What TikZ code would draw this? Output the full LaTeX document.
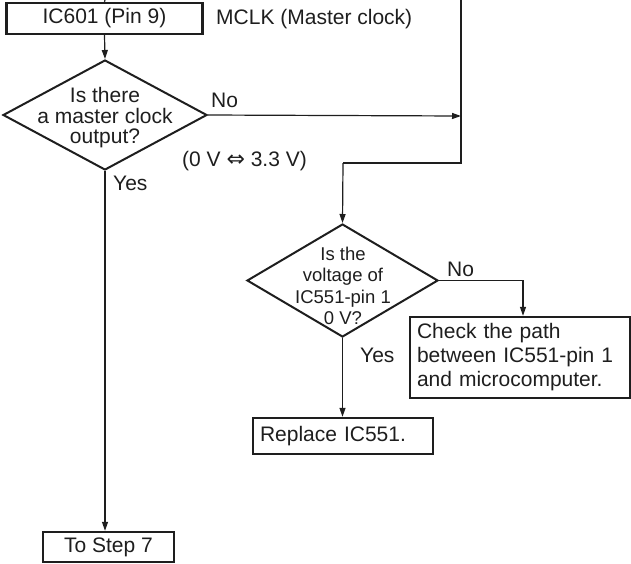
\documentclass[tikz,border=0pt]{standalone}
\usepackage{fontspec}
\setmainfont{Liberation Sans}
\newfontfamily\symfont{DejaVu Sans}
\usetikzlibrary{shapes.geometric,arrows.meta}
\definecolor{ink}{HTML}{1E1E1E}
\tikzset{
  every node/.style={text=ink, font=\fontsize{21}{21}\selectfont},
  stepbox/.style={draw=ink, line width=2.4pt, inner sep=0pt, minimum height=31pt},
  notebox/.style={draw=ink, line width=2.4pt, inner xsep=7pt, inner ysep=0pt, align=left},
  decision/.style={diamond, draw=ink, line width=2pt, inner sep=0pt},
  lbl/.style={inner sep=0pt, anchor=west},
  conn/.style={draw=ink, line width=1.2pt},
  arr/.style={conn, -{Triangle[length=9pt,width=6pt]}},
}
\begin{document}
\begin{tikzpicture}[x=1pt,y=-1pt]
\useasboundingbox (0,0) rectangle (631,563);

% nodes
\node[stepbox, minimum width=196pt] (ic) at (104.5,18.5) {IC601 (Pin 9)};
\node[lbl] (mclk) at (216,19) {MCLK (Master clock)};

\node[decision, minimum width=204pt, minimum height=110pt] (d1) at (105,115) {};
\node[align=center, font=\fontsize{21}{20.5}\selectfont] (t1) at (105,118) {Is there\\a master clock\\output?};
\node[lbl] (no1) at (211,100) {No};
\node[lbl] (volt) at (182,161) {(0 V {\symfont\fontsize{22}{22}\selectfont ⇔} 3.3 V)};
\node[lbl] (yes1) at (113,183) {Yes};

\node[stepbox, minimum width=131pt, minimum height=30pt] (step) at (108.5,547) {To Step 7};

\coordinate (topA) at (105,0);
\coordinate (topB) at (461,0);
\coordinate (join) at (461,116);
\coordinate (bendA) at (461,163);
\coordinate (bendB) at (343,163);

\node[decision, minimum width=191pt, minimum height=113pt] (d2) at (342.5,280.5) {};
\node[align=center, font=\fontsize{18.5}{21.5}\selectfont] (t2) at (343,286) {Is the\\voltage of\\IC551-pin 1\\0 V?};
\node[lbl] (no2) at (447,269) {No};
\node[lbl] (yes2) at (360,355) {Yes};

\node[notebox, text width=206pt, minimum height=81pt, font=\fontsize{21}{24}\selectfont] (check) at (520,357.5) {Check the path\\between IC551-pin 1\\and microcomputer.};
\node[notebox, text width=166pt, minimum height=36pt] (rep) at (343,436) {Replace IC551.};

% connectors
\draw[conn] (topA) -- (ic.north);
\draw[arr] (ic.south) -- (d1.north);
\draw[arr] (d1.east) -- (join);
\draw[conn] (topB) -- (bendA) -- (bendB);
\draw[arr] (bendB) -- (d2.north);
\draw[arr] (d1.south) -- (d1.south |- step.north);
\draw[arr] (d2.east) -| ([xshift=3pt]check.north);
\draw[arr] (d2.south) -- (d2.south |- rep.north);
\end{tikzpicture}
\end{document}
